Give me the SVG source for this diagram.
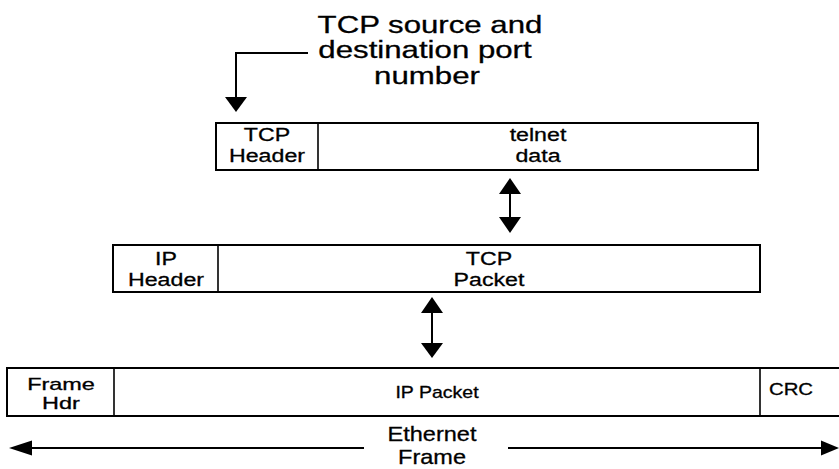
<svg xmlns="http://www.w3.org/2000/svg" width="839" height="469" viewBox="0 0 839 469">
  <style>
    .box { fill: #ffffff; stroke: #000000; stroke-width: 2; }
    .div { fill: none; stroke: #000000; stroke-width: 1.6; }
    .line { fill: none; stroke: #000000; stroke-width: 2; }
    .head { fill: #000000; stroke: none; }
    text { font-family: "Liberation Sans", Arial, sans-serif; fill: #000000; stroke: #000000; stroke-width: 0.3; text-anchor: middle; }
    .title { font-size: 24px; }
    .lbl { font-size: 19px; }
    .hdr { font-size: 17px; }
    .small { font-size: 16px; }
    .crc { font-size: 17px; }
    .eth { font-size: 21px; }
  </style>

  <rect width="839" height="469" fill="#ffffff"/>

  <!-- caption for the TCP header -->
  <g id="port-note">
    <text class="title" transform="translate(430,33) scale(1.3,1)">TCP source and</text>
    <text class="title" transform="translate(425,58) scale(1.3,1)">destination port</text>
    <text class="title" transform="translate(427,84) scale(1.3,1)">number</text>
  </g>

  <!-- TCP segment: header + telnet data -->
  <g id="tcp-segment">
    <rect class="box" x="216" y="123" width="542" height="47"/>
    <line class="div" x1="318" y1="123" x2="318" y2="170"/>
    <text class="lbl" transform="translate(267,141) scale(1.22,1)">TCP</text>
    <text class="lbl" transform="translate(267,162) scale(1.22,1)">Header</text>
    <text class="lbl" transform="translate(538,141) scale(1.22,1)">telnet</text>
    <text class="lbl" transform="translate(538,162) scale(1.22,1)">data</text>
  </g>

  <!-- IP packet: header + TCP packet -->
  <g id="ip-packet">
    <rect class="box" x="113" y="245" width="647" height="47"/>
    <line class="div" x1="218" y1="245" x2="218" y2="292"/>
    <text class="lbl" transform="translate(166,265) scale(1.22,1)">IP</text>
    <text class="lbl" transform="translate(166,286) scale(1.22,1)">Header</text>
    <text class="lbl" transform="translate(489,265) scale(1.22,1)">TCP</text>
    <text class="lbl" transform="translate(489,286) scale(1.22,1)">Packet</text>
  </g>

  <!-- Ethernet frame: header + IP packet + CRC -->
  <g id="ethernet-frame">
    <rect class="box" x="7" y="368" width="840" height="48"/>
    <line class="div" x1="114" y1="368" x2="114" y2="416"/>
    <line class="div" x1="760" y1="368" x2="760" y2="416"/>
    <text class="hdr" transform="translate(61,390) scale(1.38,1)">Frame</text>
    <text class="hdr" transform="translate(61,409) scale(1.38,1)">Hdr</text>
    <text class="small" transform="translate(437,398) scale(1.22,1)">IP Packet</text>
    <text class="crc" transform="translate(791,395) scale(1.2,1)">CRC</text>
  </g>

  <!-- frame extent label -->
  <g id="frame-span">
    <text class="eth" transform="translate(432,441) scale(1.12,1)">Ethernet</text>
    <text class="eth" transform="translate(432,464) scale(1.12,1)">Frame</text>
  </g>

  <!-- connectors -->
  <g id="connectors">
    <!-- note pointer to TCP header -->
    <polyline class="line" points="308,53 236,53 236,98"/>
    <polygon class="head" points="225,97 247,97 236,112"/>

    <!-- TCP segment <-> IP packet -->
    <line class="line" x1="510" y1="192" x2="510" y2="219"/>
    <polygon class="head" points="510,178 499,194 521,194"/>
    <polygon class="head" points="499,217 521,217 510,233"/>

    <!-- IP packet <-> Ethernet frame -->
    <line class="line" x1="432" y1="311" x2="432" y2="344"/>
    <polygon class="head" points="432,297 421,313 443,313"/>
    <polygon class="head" points="421,343 443,343 432,358"/>

    <!-- Ethernet frame span -->
    <line class="line" x1="364" y1="448" x2="30" y2="448"/>
    <polygon class="head" points="9,448 32,440.5 32,455.5"/>
    <line class="line" x1="508" y1="448" x2="823" y2="448"/>
    <polygon class="head" points="839,448 821,440.5 821,455.5"/>
  </g>
</svg>
